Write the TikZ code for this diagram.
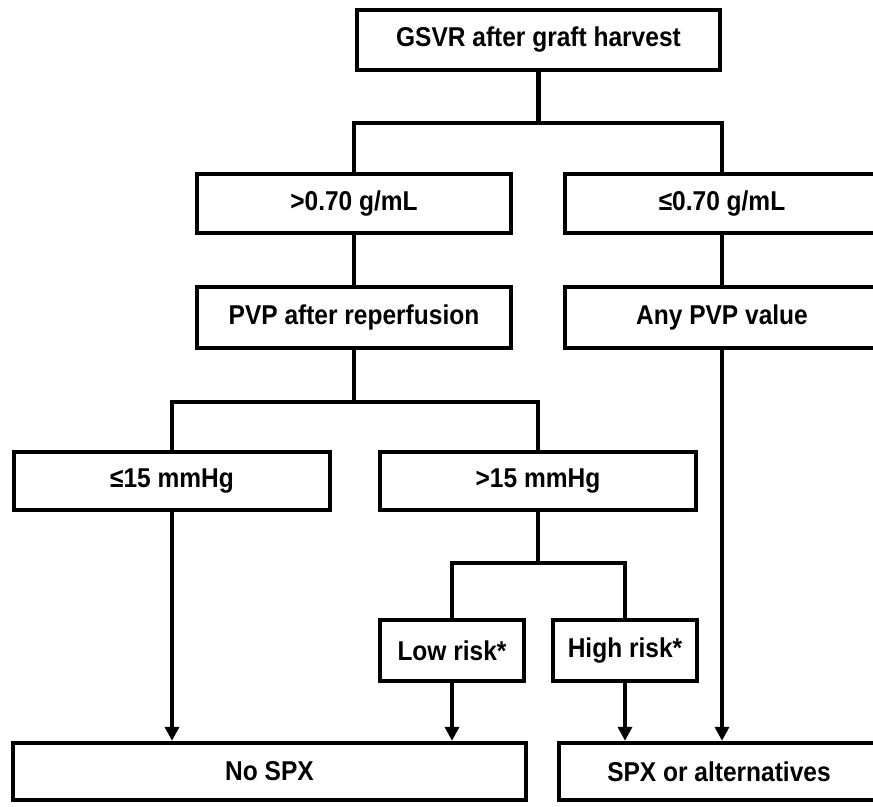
\documentclass[tikz,border=0pt]{standalone}
\usepackage{fontspec}
\setmainfont{Liberation Sans}[FakeStretch=0.9]
\usetikzlibrary{arrows.meta, positioning}
\tikzstyle{box} = [rectangle, draw=black, fill=white, line width=2.5pt, inner sep=0pt, align=center, font=\fontsize{15.5}{18}\selectfont\bfseries]
\tikzstyle{link} = [line width=2.3pt]
\tikzstyle{arrow} = [line width=2.3pt, -{Triangle[length=0.28cm, width=0.28cm]}]

\begin{document}
\begin{tikzpicture}[x=0.02cm, y=-0.02cm]
\useasboundingbox (0,0) rectangle (873,806);
\clip (0,0) rectangle (873,806);
\node[box, minimum width=7.26cm, minimum height=1.2cm] (gsvr) at (538.5,40) {GSVR after graft harvest};
\node[box, minimum width=6.28cm, minimum height=1.18cm] (gt070) at (354,203.5) {>0.70 g/mL};
\node[box, minimum width=6.28cm, minimum height=1.18cm] (le070) at (722,203.5) {≤0.70 g/mL};
\node[box, minimum width=6.28cm, minimum height=1.22cm] (pvp) at (354,317.5) {PVP after reperfusion};
\node[box, minimum width=6.28cm, minimum height=1.22cm] (anypvp) at (722,317.5) {Any PVP value};
\node[box, minimum width=6.32cm, minimum height=1.16cm] (le15) at (172,481) {≤15 mmHg};
\node[box, minimum width=6.32cm, minimum height=1.16cm] (gt15) at (538,481) {>15 mmHg};
\node[box, minimum width=2.88cm, minimum height=1.22cm] (low) at (452,650.5) {Low risk*};
\node[box, minimum width=2.88cm, minimum height=1.22cm] (high) at (625,650.5) {High risk*};
\node[box, minimum width=10.26cm, minimum height=1.14cm] (nospx) at (269.5,771.5) {No SPX};
\node[box, minimum width=6.4cm, minimum height=1.14cm] (spx) at (719,771.5) {SPX or alternatives};

\coordinate (split1) at (538.5,123);
\draw[link] (gsvr.south) -- (split1) -| (gt070.north);
\draw[link] (split1) -| (le070.north);
\draw[link] (gt070.south) -- (pvp.north);
\draw[link] (le070.south) -- (anypvp.north);
\coordinate (split2) at (354,402);
\draw[link] (pvp.south) -- (split2) -| (le15.north);
\draw[link] (split2) -| (gt15.north);
\coordinate (split3) at (538,563);
\draw[link] (gt15.south) -- (split3) -| (low.north);
\draw[link] (split3) -| (high.north);
\draw[arrow] (le15.south) -- (le15.south |- nospx.north);
\draw[arrow] (low.south) -- (low.south |- nospx.north);
\draw[arrow] (high.south) -- (high.south |- spx.north);
\draw[arrow] (anypvp.south) -- (anypvp.south |- spx.north);
\end{tikzpicture}
\end{document}
